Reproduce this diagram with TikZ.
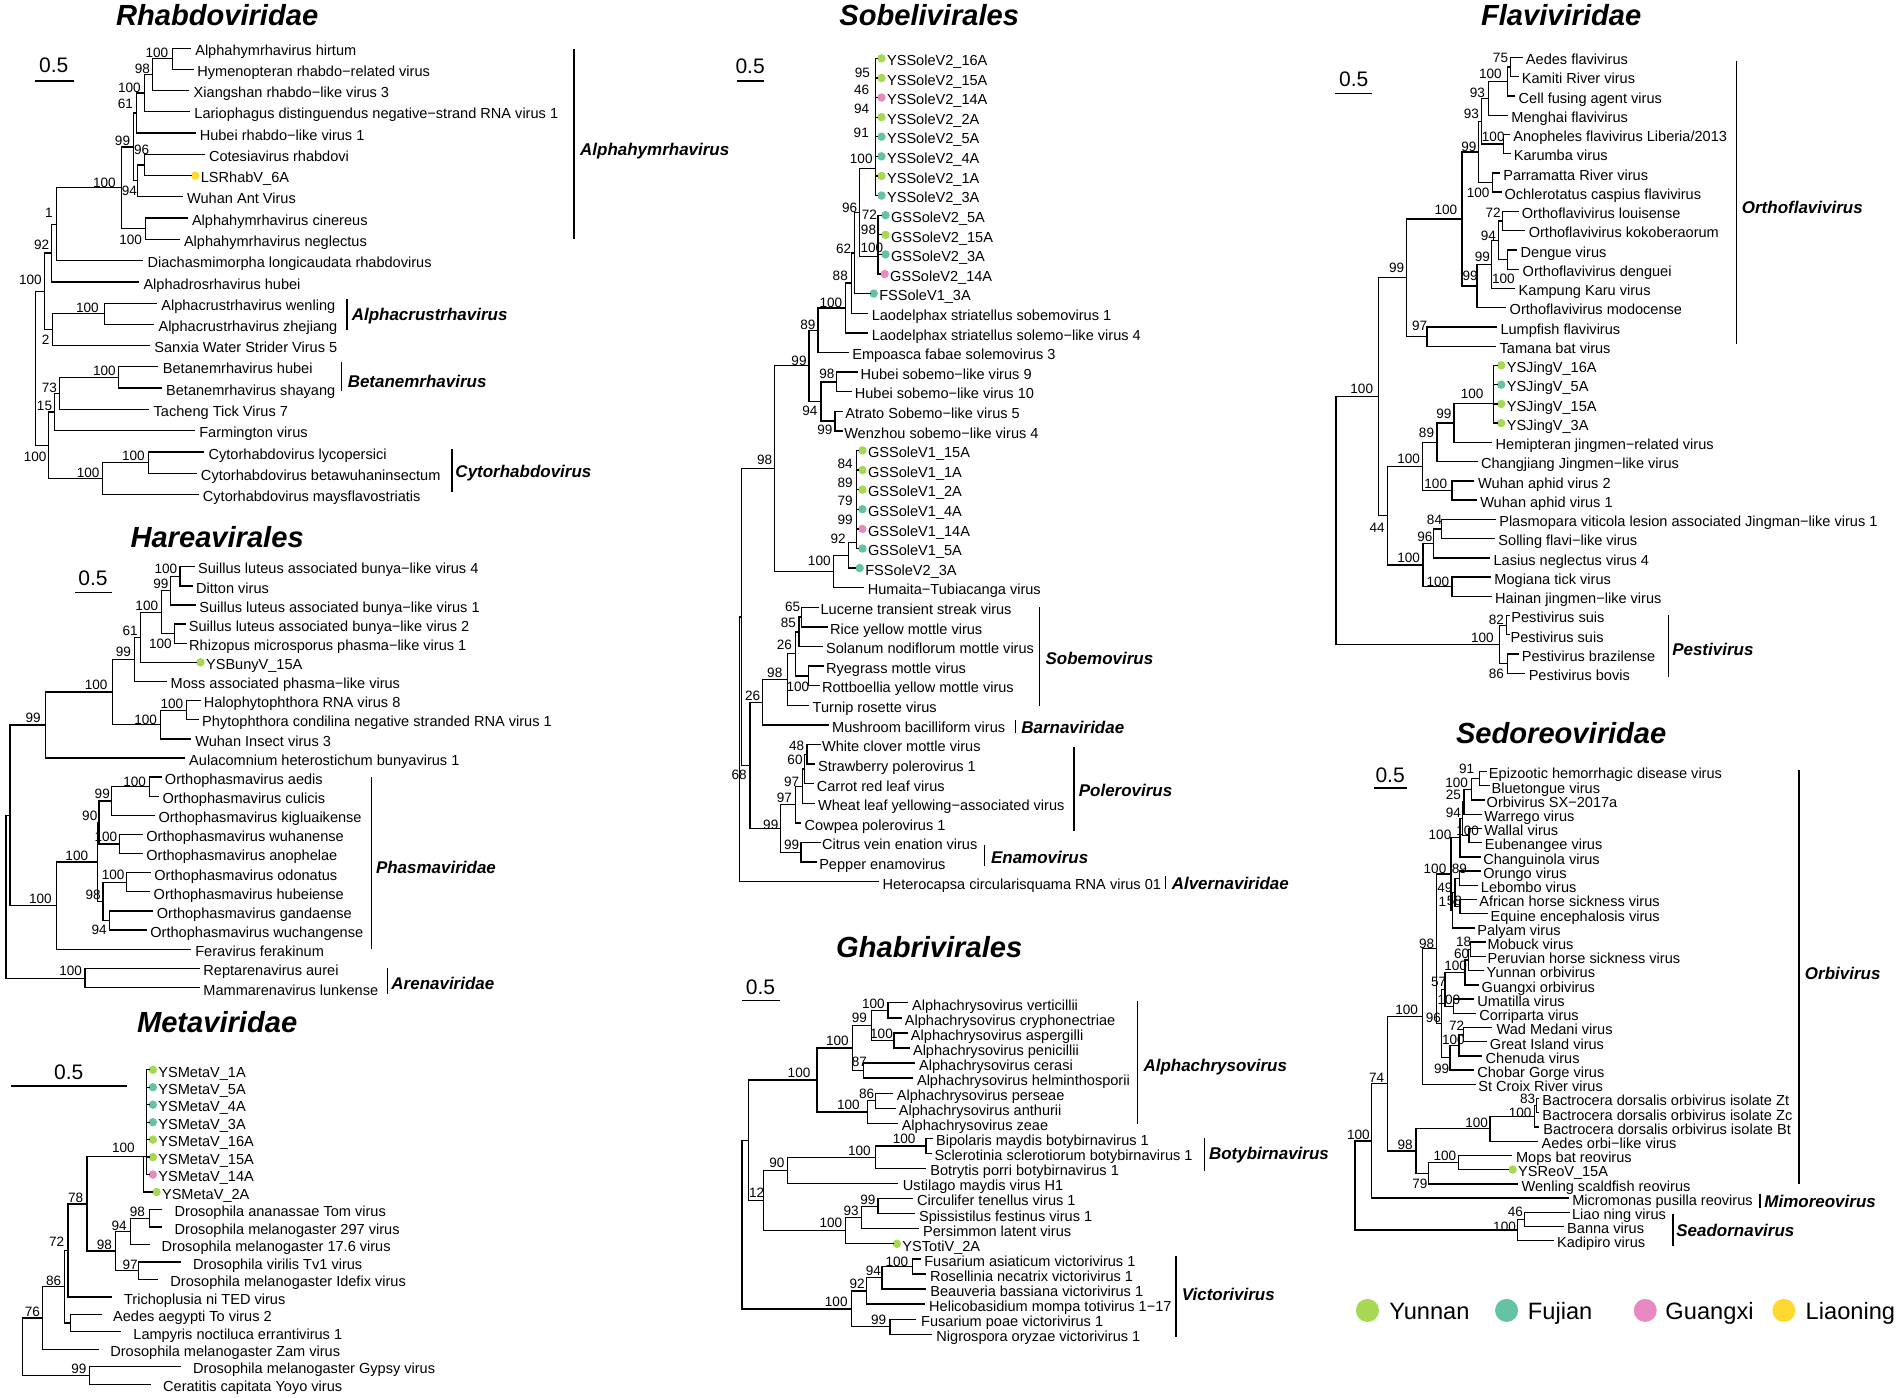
\documentclass[tikz,border=0pt]{standalone}
\usepackage{fontspec}
\setmainfont{Liberation Sans}
\definecolor{yun}{HTML}{A6D854}
\definecolor{fuj}{HTML}{66C2A5}
\definecolor{gxc}{HTML}{E78AC3}
\definecolor{lnc}{HTML}{FFD92F}
\newcounter{bsn}
\newcommand\Lf[5]{\coordinate (#1) at (#2,#4); \node[lft] (#1t) at (#3,#4) {#5};}
\newcommand\Dl[5]{\coordinate (#1) at (#3-3.2,#4); \fill[#2] (#3,#4) circle[radius=2.1pt]; \node[lft] (#1t) at (#3+4.6,#4) {#5};}
\newcommand\Nd[3]{\coordinate (#1) at (#2,#3);}
\newcommand\Ed[2]{\foreach \kid in {#2}{\draw[br] (#1) |- (\kid);}}
\newcommand\Bs[3]{\stepcounter{bsn}\node[bsl] (bs\arabic{bsn}) at (#1,#2) {#3};}
\newcommand\Cl[7]{\coordinate (#1a) at (#2,#3); \coordinate (#1b) at (#2,#4); \draw[br] (#1a) -- (#1b); \node[cll] (#1t) at (#5,#6) {#7};}
\newcommand\Scb[6]{\coordinate (#1a) at (#2,#4); \coordinate (#1b) at (#3,#4); \draw[br] (#1a) -- (#1b); \node[sbl] (#1t) at (#5,#6) {0.5};}
\tikzset{
  br/.style={line width=0.65pt,line cap=rect,line join=miter},
  lft/.style={anchor=west,inner sep=0pt,outer sep=0pt,font=\fontsize{7.2}{8}\selectfont,text height=0.72em,text depth=0pt},
  bsl/.style={inner sep=0pt,outer sep=0pt,font=\fontsize{6.7}{7}\selectfont,text height=0.72em,text depth=0pt},
  cll/.style={anchor=west,inner sep=0pt,outer sep=0pt,font=\fontsize{8.4}{9}\selectfont\bfseries\itshape,text height=0.72em,text depth=0pt},
  ttl/.style={inner sep=0pt,outer sep=0pt,font=\fontsize{14.4}{16}\selectfont\bfseries\itshape,text height=0.72em,text depth=0pt},
  sbl/.style={inner sep=0pt,outer sep=0pt,font=\fontsize{10.4}{11}\selectfont,text height=0.72em,text depth=0pt},
  lgd/.style={anchor=west,inner sep=0pt,outer sep=0pt,font=\fontsize{11.7}{13}\selectfont,text height=0.72em,text depth=0pt},
}
\begin{document}
\begin{tikzpicture}[x=0.6pt,y=-0.6pt]
\useasboundingbox (0,0) rectangle (1568,1152.5);
\fill[white] (0,0) rectangle (1568,1152.5);
%================ Rhabdoviridae
\node[ttl] (tR) at (179,15.1) {Rhabdoviridae};
\Scb{sR}{29.3}{60.7}{66.8}{44.3}{54.1}
\Lf{r1}{156.7}{161}{39.8}{Alphahymrhavirus hirtum}
\Lf{r2}{159}{162.7}{57.2}{Hymenopteran rhabdo−related virus}
\Lf{r3}{155.3}{159.7}{74.5}{Xiangshan rhabdo−like virus 3}
\Lf{r4}{156}{160.3}{92}{Lariophagus distinguendus negative−strand RNA virus 1}
\Lf{r5}{160.7}{164.7}{109.6}{Hubei rhabdo−like virus 1}
\Lf{r6}{168.7}{172.3}{127.2}{Cotesiavirus rhabdovi}
\Dl{r7}{lnc}{161}{144.8}{LSRhabV\_6A}
\Lf{r8}{150.7}{154.3}{162.1}{Wuhan Ant Virus}
\Lf{r9}{154.3}{158.3}{179.7}{Alphahymrhavirus cinereus}
\Lf{r10}{147.7}{151.7}{197.3}{Alphahymrhavirus neglectus}
\Lf{r11}{117.3}{121.7}{214.9}{Diachasmimorpha longicaudata rhabdovirus}
\Lf{r12}{114.3}{118.3}{232.5}{Alphadrosrhavirus hubei}
\Lf{r13}{128.7}{133}{250}{Alphacrustrhavirus wenling}
\Lf{r14}{126.3}{130.7}{267.4}{Alphacrustrhavirus zhejiang}
\Lf{r15}{123.3}{127.3}{284.7}{Sanxia Water Strider Virus 5}
\Lf{r16}{130}{134.3}{302.3}{Betanemrhavirus hubei}
\Lf{r17}{132.7}{137}{319.9}{Betanemrhavirus shayang}
\Lf{r18}{122.7}{126.7}{337.5}{Tacheng Tick Virus 7}
\Lf{r19}{160}{164.3}{355}{Farmington virus}
\Lf{r20}{167.7}{172}{372.6}{Cytorhabdovirus lycopersici}
\Lf{r21}{161.7}{165.7}{390.1}{Cytorhabdovirus betawuhaninsectum}
\Lf{r22}{163.3}{167.3}{407.6}{Cytorhabdovirus maysflavostriatis}
\Nd{rA}{142}{48.5} \Ed{rA}{r1,r2}
\Nd{rB}{126}{61.5} \Ed{rB}{rA,r3}
\Nd{rC}{119.3}{76.75} \Ed{rC}{rB,r4}
\Nd{rD}{112.7}{93.2} \Ed{rD}{rC,r5}
\Nd{rE}{119.3}{136} \Ed{rE}{r6,r7}
\Nd{rF}{113.3}{149} \Ed{rF}{rE,r8}
\Nd{rH}{110}{121.1} \Ed{rH}{rD,rF}
\Nd{rI}{120}{188.5} \Ed{rI}{r9,r10}
\Nd{rG}{100}{154.8} \Ed{rG}{rH,rI}
\Nd{rP}{46.7}{184.9} \Ed{rP}{rG,r11}
\Nd{rQ}{42.7}{208.7} \Ed{rQ}{rP,r12}
\Nd{rR}{86}{258.7} \Ed{rR}{r13,r14}
\Nd{rS}{43.3}{271.7} \Ed{rS}{rR,r15}
\Nd{rT}{36.7}{240.2} \Ed{rT}{rQ,rS}
\Nd{rU}{97.7}{311.1} \Ed{rU}{r16,r17}
\Nd{rV}{49.3}{324.3} \Ed{rV}{rU,r18}
\Nd{rW}{45}{339.7} \Ed{rW}{rV,r19}
\Nd{rJ}{122.7}{381.4} \Ed{rJ}{r20,r21}
\Nd{rK}{84.3}{394.5} \Ed{rK}{rJ,r22}
\Nd{rM}{40}{367.1} \Ed{rM}{rW,rK}
\Nd{rO}{29.3}{303.7} \Ed{rO}{rT,rM}
\Bs{129.3}{41.2}{100}
\Bs{117.3}{55}{98}
\Bs{106.7}{70.1}{100}
\Bs{103.3}{83.8}{61}
\Bs{101}{114}{99}
\Bs{116.7}{121.5}{96}
\Bs{106.7}{155.3}{94}
\Bs{86}{148.4}{100}
\Bs{107.7}{195.7}{100}
\Bs{40.3}{173.7}{1}
\Bs{34.3}{199.8}{92}
\Bs{25}{228.6}{100}
\Bs{72}{251.4}{100}
\Bs{37.7}{278.4}{2}
\Bs{86}{303.7}{100}
\Bs{40.7}{317.4}{73}
\Bs{36.7}{332.5}{15}
\Bs{110}{373.7}{100}
\Bs{72.7}{387.5}{100}
\Bs{29}{374.3}{100}
\Cl{cA}{473.3}{41.2}{196.5}{478.3}{122.3}{Alphahymrhavirus}
\Cl{cB}{286}{247.3}{271.5}{290}{258.3}{Alphacrustrhavirus}
\Cl{cC}{281.7}{299}{322}{286.7}{313.3}{Betanemrhavirus}
\Cl{cD}{372.7}{371}{404.8}{375.5}{387.5}{Cytorhabdovirus}
%================ Sobelivirales
\node[ttl] (tS) at (766,15.1) {Sobelivirales};
\Scb{sS}{607.7}{629.3}{66.8}{618.4}{55}
\Dl{s1}{yun}{726.7}{48.1}{YSSoleV2\_16A}
\Dl{s2}{yun}{726.7}{64.3}{YSSoleV2\_15A}
\Dl{s3}{gxc}{726.7}{80.4}{YSSoleV2\_14A}
\Dl{s4}{yun}{726.7}{96.6}{YSSoleV2\_2A}
\Dl{s5}{fuj}{726.7}{112.7}{YSSoleV2\_5A}
\Dl{s6}{fuj}{726.7}{128.9}{YSSoleV2\_4A}
\Dl{s7}{yun}{726.7}{145.1}{YSSoleV2\_1A}
\Dl{s8}{fuj}{726.7}{161.2}{YSSoleV2\_3A}
\Dl{s9}{fuj}{730}{177.4}{GSSoleV2\_5A}
\Dl{s10}{yun}{730}{193.6}{GSSoleV2\_15A}
\Dl{s11}{fuj}{730}{209.7}{GSSoleV2\_3A}
\Dl{s12}{gxc}{729.3}{225.9}{GSSoleV2\_14A}
\Dl{s13}{fuj}{720.3}{242}{FSSoleV1\_3A}
\Lf{s14}{715.3}{718.7}{258.2}{Laodelphax striatellus sobemovirus 1}
\Lf{s15}{715.3}{718.7}{274.4}{Laodelphax striatellus solemo−like virus 4}
\Lf{s16}{699.4}{702.7}{290.5}{Empoasca fabae solemovirus 3}
\Lf{s17}{706.7}{709.4}{306.7}{Hubei sobemo−like virus 9}
\Lf{s18}{702}{704.7}{322.9}{Hubei sobemo−like virus 10}
\Lf{s19}{694.4}{697}{339}{Atrato Sobemo−like virus 5}
\Lf{s20}{694.4}{696}{355.2}{Wenzhou sobemo−like virus 4}
\Dl{s21}{yun}{711}{371.3}{GSSoleV1\_15A}
\Dl{s22}{yun}{711}{387.5}{GSSoleV1\_1A}
\Dl{s23}{yun}{711}{403.7}{GSSoleV1\_2A}
\Dl{s24}{fuj}{711}{419.8}{GSSoleV1\_4A}
\Dl{s25}{gxc}{711}{436}{GSSoleV1\_14A}
\Dl{s26}{fuj}{711}{452.2}{GSSoleV1\_5A}
\Dl{s27}{fuj}{708.7}{468.3}{FSSoleV2\_3A}
\Lf{s28}{712}{715.4}{484.5}{Humaita−Tubiacanga virus}
\Lf{s29}{674.4}{676.5}{500.6}{Lucerne transient streak virus}
\Lf{s30}{682}{684.4}{516.8}{Rice yellow mottle virus}
\Lf{s31}{677.7}{681}{533}{Solanum nodiflorum mottle virus}
\Lf{s32}{678.4}{681}{549.1}{Ryegrass mottle virus}
\Lf{s33}{675.4}{677.7}{565.3}{Rottboellia yellow mottle virus}
\Lf{s34}{666.7}{670}{581.4}{Turnip rosette virus}
\Lf{s35}{682.7}{686}{597.6}{Mushroom bacilliform virus}
\Lf{s36}{676}{677.7}{613.8}{White clover mottle virus}
\Lf{s37}{671.7}{674.4}{629.9}{Strawberry polerovirus 1}
\Lf{s38}{670.3}{673.4}{646.1}{Carrot red leaf virus}
\Lf{s39}{671}{674.4}{662.2}{Wheat leaf yellowing−associated virus}
\Lf{s40}{660}{663.4}{678.4}{Cowpea polerovirus 1}
\Lf{s41}{676}{677.7}{694.6}{Citrus vein enation virus}
\Lf{s42}{672.7}{675.4}{710.7}{Pepper enamovirus}
\Lf{s43}{724.4}{727.7}{726.9}{Heterocapsa circularisquama RNA virus 01}
\Nd{sC1}{722}{138.8} \Ed{sC1}{s1,s2,s3,s4,s5,s6,s7,s8}
\Nd{sC2}{723.7}{211.6} \Ed{sC2}{s9,s10,s11,s12}
\Nd{s96}{708.4}{175.2} \Ed{s96}{sC1,sC2}
\Nd{s62}{704.4}{208.6} \Ed{s62}{s96,s13}
\Nd{s88}{701.7}{233.4} \Ed{s88}{s62,s14}
\Nd{s100}{697}{253.9} \Ed{s100}{s88,s15}
\Nd{s89}{674.4}{272.2} \Ed{s89}{s100,s16}
\Nd{sHu}{689.4}{314.8} \Ed{sHu}{s17,s18}
\Nd{sAt}{688.4}{347.1} \Ed{sAt}{s19,s20}
\Nd{s94}{676.7}{331} \Ed{s94}{sHu,sAt}
\Nd{s99}{667}{301.6} \Ed{s99}{s89,s94}
\Nd{sC3}{706}{447} \Ed{sC3}{s21,s22,s23,s24,s25,s26}
\Nd{sF92}{699.4}{457.7} \Ed{sF92}{sC3,s27}
\Nd{sG100}{687}{471} \Ed{sG100}{sF92,s28}
\Nd{s98}{638.7}{386.3} \Ed{s98}{s99,sG100}
\Nd{s65}{661}{508.7} \Ed{s65}{s29,s30}
\Nd{s85}{658.7}{520.9} \Ed{s85}{s65,s31}
\Nd{sRy}{666.7}{557.2} \Ed{sRy}{s32,s33}
\Nd{s26a}{656}{539} \Ed{s26a}{s85,sRy}
\Nd{s98s}{649.4}{560.2} \Ed{s98s}{s26a,s34}
\Nd{s26b}{628.7}{578.9} \Ed{s26b}{s98s,s35}
\Nd{s48}{665.4}{621.9} \Ed{s48}{s36,s37}
\Nd{s60}{663.4}{634} \Ed{s60}{s48,s38}
\Nd{s97a}{661.5}{648.1} \Ed{s97a}{s60,s39}
\Nd{s97b}{656}{663.3} \Ed{s97b}{s97a,s40}
\Nd{sEn}{660.4}{702.7} \Ed{sEn}{s41,s42}
\Nd{s99p}{643.4}{683} \Ed{s99p}{s97b,sEn}
\Nd{s287}{618.4}{631} \Ed{s287}{s26b,s99p}
\Nd{sX}{611}{508.6} \Ed{sX}{s98,s287}
\Nd{sY}{609.4}{617.8} \Ed{sY}{sX,s43}
\Bs{711}{57.7}{95}
\Bs{710.4}{72}{46}
\Bs{710.4}{87.4}{94}
\Bs{710}{107.2}{91}
\Bs{710}{128.6}{100}
\Bs{716.7}{175.3}{72}
\Bs{716}{187.7}{98}
\Bs{718.7}{202}{100}
\Bs{700.4}{169.5}{96}
\Bs{695.4}{202.8}{62}
\Bs{692.7}{225.3}{88}
\Bs{685}{247.9}{100}
\Bs{666}{266}{89}
\Bs{681.7}{306.4}{98}
\Bs{680}{352.6}{99}
\Bs{667.7}{336.6}{94}
\Bs{658.7}{295.4}{99}
\Bs{696.7}{380.6}{84}
\Bs{696.7}{395.7}{89}
\Bs{696.7}{410.9}{79}
\Bs{696.7}{426.2}{99}
\Bs{691}{441.9}{92}
\Bs{675.4}{460.6}{100}
\Bs{630.4}{377}{98}
\Bs{653.4}{498.2}{65}
\Bs{650}{511.2}{85}
\Bs{657.7}{564.2}{100}
\Bs{646.7}{529.3}{26}
\Bs{638.7}{552.4}{98}
\Bs{620.4}{571.6}{26}
\Bs{656.7}{612.3}{48}
\Bs{655.4}{624.6}{60}
\Bs{652.7}{642.5}{97}
\Bs{646.7}{655.7}{97}
\Bs{652.7}{694.7}{99}
\Bs{635.4}{677.7}{99}
\Bs{609.4}{637}{68}
\Cl{cE}{857}{501}{581.5}{862}{542.2}{Sobemovirus}
\Cl{cF}{837}{594.4}{604}{842}{599}{Barnaviridae}
\Cl{cG}{885.4}{616.4}{684.6}{889.4}{650.8}{Polerovirus}
\Cl{cH}{811.7}{697.5}{713.1}{817}{705.7}{Enamovirus}
\Cl{cI}{961}{722.8}{732.6}{966}{727.7}{Alvernaviridae}
%================ Flaviviridae
\node[ttl] (tF) at (1287,15.1) {Flaviviridae};
\Scb{sF}{1101.3}{1130.3}{77}{1116}{65.1}
\Lf{f1}{1254.6}{1258}{47.3}{Aedes flavivirus}
\Lf{f2}{1251.3}{1254.6}{63.2}{Kamiti River virus}
\Lf{f3}{1248}{1252}{79.1}{Cell fusing agent virus}
\Lf{f4}{1242.6}{1246}{95}{Menghai flavivirus}
\Lf{f5}{1244.6}{1247.6}{110.8}{Anopheles flavivirus Liberia/2013}
\Lf{f6}{1245.3}{1248}{126.7}{Karumba virus}
\Lf{f7}{1236.3}{1239.3}{142.6}{Parramatta River virus}
\Lf{f8}{1237.6}{1240.3}{158.4}{Ochlerotatus caspius flavivirus}
\Lf{f9}{1251.3}{1254.6}{174.3}{Orthoflavivirus louisense}
\Lf{f10}{1257}{1260.3}{190.2}{Orthoflavivirus kokoberaorum}
\Lf{f11}{1250.3}{1253.6}{206}{Dengue virus}
\Lf{f12}{1252}{1255.3}{221.9}{Orthoflavivirus denguei}
\Lf{f13}{1248.6}{1252}{237.8}{Kampung Karu virus}
\Lf{f14}{1241.3}{1244.6}{253.6}{Orthoflavivirus modocense}
\Lf{f15}{1233.6}{1237}{269.5}{Lumpfish flavivirus}
\Lf{f16}{1233}{1236.3}{285.4}{Tamana bat virus}
\Dl{f17}{yun}{1237.6}{301.2}{YSJingV\_16A}
\Dl{f18}{fuj}{1237.6}{317.1}{YSJingV\_5A}
\Dl{f19}{yun}{1237.6}{333}{YSJingV\_15A}
\Dl{f20}{yun}{1237.6}{348.8}{YSJingV\_3A}
\Lf{f21}{1229.3}{1233}{364.7}{Hemipteran jingmen−related virus}
\Lf{f22}{1218}{1221}{380.6}{Changjiang Jingmen−like virus}
\Lf{f23}{1214.6}{1218.6}{396.6}{Wuhan aphid virus 2}
\Lf{f24}{1217}{1220.3}{412.3}{Wuhan aphid virus 1}
\Lf{f25}{1232.6}{1236}{428.1}{Plasmopara viticola lesion associated Jingman−like virus 1}
\Lf{f26}{1232}{1235.3}{444}{Solling flavi−like virus}
\Lf{f27}{1228}{1231.3}{459.9}{Lasius neglectus virus 4}
\Lf{f28}{1228.6}{1232}{475.7}{Mogiana tick virus}
\Lf{f29}{1229.3}{1232.6}{491.6}{Hainan jingmen−like virus}
\Lf{f30}{1244.3}{1246}{507.5}{Pestivirus suis}
\Lf{f31}{1244.3}{1245.3}{523.3}{Pestivirus suis}
\Lf{f32}{1252}{1254.6}{539.2}{Pestivirus brazilense}
\Lf{f33}{1257}{1260.3}{555}{Pestivirus bovis}
\Nd{f75}{1245.3}{55.3} \Ed{f75}{f1,f2}
\Nd{fA}{1243}{67.2} \Ed{fA}{f75,f3}
\Nd{f93a}{1227}{81.1} \Ed{f93a}{fA,f4}
\Nd{fAn}{1239.6}{118.8} \Ed{fAn}{f5,f6}
\Nd{f93b}{1221.3}{100} \Ed{f93b}{f93a,fAn}
\Nd{fPa}{1230.3}{150.5} \Ed{fPa}{f7,f8}
\Nd{f99a}{1218.6}{125.3} \Ed{f99a}{f93b,fPa}
\Nd{f72}{1238.6}{182.3} \Ed{f72}{f9,f10}
\Nd{fDe}{1243}{214} \Ed{fDe}{f11,f12}
\Nd{f94}{1235.3}{198.1} \Ed{f94}{f72,fDe}
\Nd{f99b}{1229.6}{218} \Ed{f99b}{f94,f13}
\Nd{f99c}{1217.6}{235.8} \Ed{f99c}{f99b,f14}
\Nd{f100b}{1205.3}{180.6} \Ed{f100b}{f99a,f99c}
\Nd{f97}{1176.3}{277.4} \Ed{f97}{f15,f16}
\Nd{f99d}{1159.6}{229} \Ed{f99d}{f100b,f97}
\Nd{fJ}{1231.3}{332.5} \Ed{fJ}{f17,f18,f19,f20}
\Nd{f99e}{1198.6}{348.6} \Ed{f99e}{fJ,f21}
\Nd{f89}{1184.6}{364.6} \Ed{f89}{f99e,f22}
\Nd{fWu}{1197}{404.5} \Ed{fWu}{f23,f24}
\Nd{f100c}{1172.6}{384.5} \Ed{f100c}{f89,fWu}
\Nd{f84}{1188.6}{436} \Ed{f84}{f25,f26}
\Nd{f96}{1182}{448} \Ed{f96}{f84,f27}
\Nd{fMo}{1197}{483.6} \Ed{fMo}{f28,f29}
\Nd{f100d}{1173}{465.8} \Ed{f100d}{f96,fMo}
\Nd{f44}{1143.6}{425.2} \Ed{f44}{f100c,f100d}
\Nd{f100e}{1136.3}{327} \Ed{f100e}{f99d,f44}
\Nd{f82}{1242}{515.4} \Ed{f82}{f30,f31}
\Nd{f86}{1242.6}{547.1} \Ed{f86}{f32,f33}
\Nd{fP}{1236}{531.3} \Ed{fP}{f82,f86}
\Nd{fR}{1101.3}{429.2} \Ed{fR}{f100e,fP}
\Bs{1237}{45.3}{75}
\Bs{1228.6}{59.1}{100}
\Bs{1218}{74.7}{93}
\Bs{1231}{110.7}{100}
\Bs{1213}{91.5}{93}
\Bs{1218.6}{156.6}{100}
\Bs{1211}{119}{99}
\Bs{1231}{173.7}{72}
\Bs{1239.3}{227.5}{100}
\Bs{1227}{192.4}{94}
\Bs{1222}{209.7}{99}
\Bs{1212}{225.3}{99}
\Bs{1192}{171}{100}
\Bs{1170.3}{266.6}{97}
\Bs{1151.3}{218.5}{99}
\Bs{1213.6}{322.9}{100}
\Bs{1190.3}{339.4}{99}
\Bs{1176}{355}{89}
\Bs{1183.6}{396.6}{100}
\Bs{1161.3}{376.5}{100}
\Bs{1182.6}{426}{84}
\Bs{1174.6}{440.5}{96}
\Bs{1185.3}{477.6}{100}
\Bs{1161.3}{457.9}{100}
\Bs{1135.3}{433.1}{44}
\Bs{1122.6}{318.8}{100}
\Bs{1233.6}{509.2}{82}
\Bs{1233.6}{553.2}{86}
\Bs{1222}{523.8}{100}
\Cl{cJ}{1431.3}{50.8}{283}{1436}{169.8}{Orthoflavivirus}
\Cl{cK}{1375.3}{507.3}{557.3}{1378.6}{534}{Pestivirus}
%================ Hareavirales
\node[ttl] (tH) at (179,445.2) {Hareavirales};
\Scb{sH}{62.7}{91.7}{488.6}{76.7}{476.8}
\Lf{h1}{160}{163.3}{467.2}{Suillus luteus associated bunya−like virus 4}
\Lf{h2}{158.3}{161.7}{483}{Ditton virus}
\Lf{h3}{160.7}{164.3}{498.8}{Suillus luteus associated bunya−like virus 1}
\Lf{h4}{152.7}{155.7}{514.5}{Suillus luteus associated bunya−like virus 2}
\Lf{h5}{153.3}{156}{530.3}{Rhizopus microsporus phasma−like virus 1}
\Dl{h6}{yun}{165.3}{546}{YSBunyV\_15A}
\Lf{h7}{137.3}{140.7}{561.8}{Moss associated phasma−like virus}
\Lf{h8}{165}{168}{577.6}{Halophytophthora RNA virus 8}
\Lf{h9}{163.3}{166.7}{593.3}{Phytophthora condilina negative stranded RNA virus 1}
\Lf{h10}{157.3}{161}{609.1}{Wuhan Insect virus 3}
\Lf{h11}{152.3}{156}{624.9}{Aulacomnium heterostichum bunyavirus 1}
\Lf{h12}{133.3}{136}{640.6}{Orthophasmavirus aedis}
\Lf{h13}{130.7}{134}{656.4}{Orthophasmavirus culicis}
\Lf{h14}{127.3}{130.7}{672.2}{Orthophasmavirus kigluaikense}
\Lf{h15}{117.3}{120.7}{687.9}{Orthophasmavirus wuhanense}
\Lf{h16}{117.3}{120.7}{703.7}{Orthophasmavirus anophelae}
\Lf{h17}{124}{127.3}{719.5}{Orthophasmavirus odonatus}
\Lf{h18}{123.3}{126.7}{735.2}{Orthophasmavirus hubeiense}
\Lf{h19}{126}{129.3}{751}{Orthophasmavirus gandaense}
\Lf{h20}{120.7}{124}{766.8}{Orthophasmavirus wuchangense}
\Lf{h21}{156.7}{161}{782.7}{Feravirus ferakinum}
\Lf{h22}{164.3}{167.7}{798.6}{Reptarenavirus aurei}
\Lf{h23}{164.3}{167.7}{814.3}{Mammarenavirus lunkense}
\Nd{hA}{148.3}{475.1} \Ed{hA}{h1,h2}
\Nd{hB}{140.7}{487} \Ed{hB}{hA,h3}
\Nd{hC}{144}{522.4} \Ed{hC}{h4,h5}
\Nd{hD}{133.3}{504.7} \Ed{hD}{hB,hC}
\Nd{hE}{116}{525.4} \Ed{hE}{hD,h6}
\Nd{hF}{111}{543.6} \Ed{hF}{hE,h7}
\Nd{hG}{154}{585.5} \Ed{hG}{h8,h9}
\Nd{hH}{132.3}{597.3} \Ed{hH}{hG,h10}
\Nd{hI}{92.7}{570.5} \Ed{hI}{hF,hH}
\Nd{hJ}{37.3}{597.7} \Ed{hJ}{hI,h11}
\Nd{hK}{123.3}{648.5} \Ed{hK}{h12,h13}
\Nd{hL}{91.7}{660.4} \Ed{hL}{hK,h14}
\Nd{hM}{98.3}{695.8} \Ed{hM}{h15,h16}
\Nd{hN}{81.7}{678.1} \Ed{hN}{hL,hM}
\Nd{hO}{104.3}{727.4} \Ed{hO}{h17,h18}
\Nd{hP}{90}{758.9} \Ed{hP}{h19,h20}
\Nd{hQ}{85}{743.2} \Ed{hQ}{hO,hP}
\Nd{hZ}{80.5}{710.6} \Ed{hZ}{hN,hQ}
\Nd{hS}{46.7}{746.6} \Ed{hS}{hZ,h21}
\Nd{hT}{70}{806.4} \Ed{hT}{h22,h23}
\Nd{hU}{8.3}{672.1} \Ed{hU}{hJ,hS}
\Nd{hV}{5}{739.3} \Ed{hV}{hU,hT}
\Bs{136.7}{466.6}{100}
\Bs{132.7}{479}{99}
\Bs{132.3}{528.5}{100}
\Bs{121}{496.9}{100}
\Bs{107.3}{517.5}{61}
\Bs{101.7}{535.3}{99}
\Bs{141.7}{578}{100}
\Bs{120}{590.9}{100}
\Bs{79.3}{562.8}{100}
\Bs{27.3}{589.8}{99}
\Bs{111}{642.5}{100}
\Bs{84.3}{652.1}{99}
\Bs{87.3}{687.9}{100}
\Bs{74}{670.5}{90}
\Bs{93.3}{718.9}{100}
\Bs{81.7}{764.8}{94}
\Bs{76.7}{735.4}{98}
\Bs{63.3}{703}{100}
\Bs{33.3}{738.7}{100}
\Bs{58.3}{798.1}{100}
\Cl{cL}{306}{641.1}{782.1}{310}{714}{Phasmaviridae}
\Cl{cM}{319.3}{798.6}{819.2}{322.7}{809.6}{Arenaviridae}
%================ Metaviridae
\node[ttl] (tM) at (179,844.8) {Metaviridae};
\Scb{sM}{9.3}{104.3}{895.4}{56.7}{883.8}
\Dl{m1}{yun}{126}{881.9}{YSMetaV\_1A}
\Dl{m2}{fuj}{126}{896.3}{YSMetaV\_5A}
\Dl{m3}{fuj}{126}{910.7}{YSMetaV\_4A}
\Dl{m4}{fuj}{126}{925.1}{YSMetaV\_3A}
\Dl{m5}{yun}{126}{939.5}{YSMetaV\_16A}
\Dl{m6}{yun}{126}{953.9}{YSMetaV\_15A}
\Dl{m7}{gxc}{126}{968.3}{YSMetaV\_14A}
\Dl{m8}{yun}{129}{982.7}{YSMetaV\_2A}
\Lf{m9}{133.3}{144}{997.1}{Drosophila ananassae Tom virus}
\Lf{m10}{133.3}{144}{1011.5}{Drosophila melanogaster 297 virus}
\Lf{m11}{123.3}{133.3}{1025.9}{Drosophila melanogaster 17.6 virus}
\Lf{m12}{149}{159.3}{1040.3}{Drosophila virilis Tv1 virus}
\Lf{m13}{130}{140.5}{1054.7}{Drosophila melanogaster Idefix virus}
\Lf{m14}{91.7}{102.3}{1069.1}{Trichoplusia ni TED virus}
\Lf{m15}{83.3}{93.3}{1083.5}{Aedes aegypti To virus 2}
\Lf{m16}{99.3}{110}{1097.9}{Lampyris noctiluca errantivirus 1}
\Lf{m17}{81}{91}{1112.3}{Drosophila melanogaster Zam virus}
\Lf{m18}{149}{159.3}{1126.7}{Drosophila melanogaster Gypsy virus}
\Lf{m19}{124}{134.5}{1141.1}{Ceratitis capitata Yoyo virus}
\Nd{mC}{120.7}{953.6} \Ed{mC}{m1,m2,m3,m4,m5,m6,m7}
\Nd{mD}{118.3}{953.6} \Ed{mD}{mC,m8}
\Nd{m98}{123.3}{1004.3} \Ed{m98}{m9,m10}
\Nd{m94}{107.3}{1015.1} \Ed{m94}{m98,m11}
\Nd{m97}{114.3}{1047.5} \Ed{m97}{m12,m13}
\Nd{m98b}{95}{1031.3} \Ed{m98b}{m94,m97}
\Nd{m78}{71.7}{992.5} \Ed{m78}{mD,m98b}
\Nd{m72}{56}{1030.8} \Ed{m72}{m78,m14}
\Nd{mAe}{58.3}{1090.7} \Ed{mAe}{m15,m16}
\Nd{m86}{53.3}{1060.8} \Ed{m86}{m72,mAe}
\Nd{m76}{35}{1086.6} \Ed{m76}{m86,m17}
\Nd{mGy}{74}{1133.9} \Ed{mGy}{m18,m19}
\Nd{mR}{18.3}{1110.3} \Ed{mR}{m76,mGy}
\Bs{101.7}{944.3}{100}
\Bs{113.3}{996.5}{98}
\Bs{98.3}{1008}{94}
\Bs{107.3}{1040.4}{97}
\Bs{86}{1024}{98}
\Bs{62.3}{985.5}{78}
\Bs{46.7}{1021.2}{72}
\Bs{44.3}{1053.4}{86}
\Bs{26.7}{1079.5}{76}
\Bs{65}{1126.2}{99}
%================ Ghabrivirales
\node[ttl] (tG) at (766,783.5) {Ghabrivirales};
\Scb{sG}{612}{642.7}{824.7}{627}{813.7}
\Lf{g1}{748}{752}{826.7}{Alphachrysovirus verticillii}
\Lf{g2}{742.7}{746}{839.1}{Alphachrysovirus cryphonectriae}
\Lf{g3}{747.7}{751}{851.5}{Alphachrysovirus aspergilli}
\Lf{g4}{749.4}{752.7}{864}{Alphachrysovirus penicillii}
\Lf{g5}{753.7}{757.7}{876.4}{Alphachrysovirus cerasi}
\Lf{g6}{752}{756}{888.8}{Alphachrysovirus helminthosporii}
\Lf{g7}{735.4}{739.4}{901.2}{Alphachrysovirus perseae}
\Lf{g8}{737.7}{741}{913.6}{Alphachrysovirus anthurii}
\Lf{g9}{739.4}{743.4}{926.1}{Alphachrysovirus zeae}
\Lf{g10}{768.7}{771.7}{938.5}{Bipolaris maydis botybirnavirus 1}
\Lf{g11}{767.7}{770.4}{950.9}{Sclerotinia sclerotiorum botybirnavirus 1}
\Lf{g12}{762.7}{767}{963.3}{Botrytis porri botybirnavirus 1}
\Lf{g13}{740}{744.4}{975.7}{Ustilago maydis virus H1}
\Lf{g14}{752}{756}{988.2}{Circulifer tenellus virus 1}
\Lf{g15}{753.4}{757.7}{1000.6}{Spissistilus festinus virus 1}
\Lf{g16}{757}{761}{1013}{Persimmon latent virus}
\Dl{g17}{yun}{739.4}{1025.4}{YSTotiV\_2A}
\Lf{g18}{758.7}{762}{1037.8}{Fusarium asiaticum victorivirus 1}
\Lf{g19}{762.7}{766.7}{1050.3}{Rosellinia necatrix victorivirus 1}
\Lf{g20}{762.7}{767}{1062.7}{Beauveria bassiana victorivirus 1}
\Lf{g21}{762}{766}{1075.1}{Helicobasidium mompa totivirus 1−17}
\Lf{g22}{755}{759.4}{1087.5}{Fusarium poae victorivirus 1}
\Lf{g23}{767.7}{772}{1099.9}{Nigrospora oryzae victorivirus 1}
\Nd{gA}{732}{832.9} \Ed{gA}{g1,g2}
\Nd{gB}{737}{857.8} \Ed{gB}{g3,g4}
\Nd{g99}{718.4}{845.4} \Ed{g99}{gA,gB}
\Nd{gC}{712}{882.6} \Ed{gC}{g5,g6}
\Nd{gD}{702.7}{864} \Ed{gD}{g99,gC}
\Nd{gE}{721.7}{907.4} \Ed{gE}{g7,g8}
\Nd{gF}{715.4}{916.8} \Ed{gF}{gE,g9}
\Nd{gG}{673.4}{890.4} \Ed{gG}{gD,gF}
\Nd{gH}{763.4}{944.7} \Ed{gH}{g10,g11}
\Nd{gI}{722}{954} \Ed{gI}{gH,g12}
\Nd{gJ}{649.4}{964.9} \Ed{gJ}{gI,g13}
\Nd{gK}{723.7}{994.4} \Ed{gK}{g14,g15}
\Nd{gL}{710}{1003.7} \Ed{gL}{gK,g16}
\Nd{gM}{697}{1014.6} \Ed{gM}{gL,g17}
\Nd{gN}{629.4}{989.8} \Ed{gN}{gJ,gM}
\Nd{gO}{617}{940.1} \Ed{gO}{gG,gN}
\Nd{gP}{752}{1044} \Ed{gP}{g18,g19}
\Nd{gQ}{727}{1053.4} \Ed{gQ}{gP,g20}
\Nd{gR}{714.4}{1064.3} \Ed{gR}{gQ,g21}
\Nd{gS}{733.7}{1093.7} \Ed{gS}{g22,g23}
\Nd{gT}{701.7}{1079} \Ed{gT}{gR,gS}
\Nd{gU}{611.7}{1009.6} \Ed{gU}{gO,gT}
\Bs{720}{825.3}{100}
\Bs{726.7}{850}{100}
\Bs{708.4}{837.1}{99}
\Bs{708.4}{873.4}{87}
\Bs{690.4}{855.8}{100}
\Bs{714.4}{899.5}{86}
\Bs{699.4}{908.5}{100}
\Bs{658.7}{881.9}{100}
\Bs{745.4}{936.6}{100}
\Bs{708.4}{946.5}{100}
\Bs{640.4}{956.6}{90}
\Bs{715.4}{986.9}{99}
\Bs{701.7}{995.7}{93}
\Bs{685}{1006.1}{100}
\Bs{623.7}{981.4}{12}
\Bs{739.4}{1037.7}{100}
\Bs{720}{1045.4}{94}
\Bs{706.7}{1056.4}{92}
\Bs{724.4}{1085.8}{99}
\Bs{689.4}{1070.7}{100}
\Cl{cN}{937.7}{826.1}{926.4}{942.7}{877}{Alphachrysovirus}
\Cl{cO}{992.7}{938.8}{964.9}{996.7}{949.8}{Botybirnavirus}
\Cl{cP}{969.4}{1036.3}{1101.5}{974.4}{1066}{Victorivirus}
%================ Sedoreoviridae
\node[ttl] (tE) at (1287,607.3) {Sedoreoviridae};
\Scb{sE}{1133.3}{1159.5}{649.6}{1146}{639}
\Lf{q0}{1225.6}{1227.5}{636.1}{Epizootic hemorrhagic disease virus}
\Lf{q1}{1227.5}{1229.7}{647.8}{Bluetongue virus}
\Lf{q2}{1223.7}{1225.6}{659.5}{Orbivirus SX−2017a}
\Lf{q3}{1220.9}{1223.7}{671.3}{Warrego virus}
\Lf{q4}{1221.5}{1223.7}{683}{Wallal virus}
\Lf{q5}{1221.5}{1224.2}{694.7}{Eubenangee virus}
\Lf{q6}{1220.1}{1222.8}{706.4}{Changuinola virus}
\Lf{q7}{1220.1}{1222.8}{718.1}{Orungo virus}
\Lf{q8}{1218.2}{1220.9}{729.9}{Lebombo virus}
\Lf{q9}{1217.3}{1219.5}{741.6}{African horse sickness virus}
\Lf{q10}{1226.4}{1228.9}{753.3}{Equine encephalosis virus}
\Lf{q11}{1215.4}{1217.9}{765}{Palyam virus}
\Lf{q12}{1224.2}{1226.4}{776.7}{Mobuck virus}
\Lf{q13}{1224.2}{1226.4}{788.5}{Peruvian horse sickness virus}
\Lf{q14}{1222.8}{1225.6}{800.2}{Yunnan orbivirus}
\Lf{q15}{1218.7}{1221.5}{811.9}{Guangxi orbivirus}
\Lf{q16}{1214.6}{1217.9}{823.6}{Umatilla virus}
\Lf{q17}{1216}{1219.5}{835.3}{Corriparta virus}
\Lf{q18}{1229.7}{1233.8}{847.1}{Wad Medani virus}
\Lf{q19}{1225.6}{1228.3}{858.8}{Great Island virus}
\Lf{q20}{1221.5}{1224.8}{870.5}{Chenuda virus}
\Lf{q21}{1214.6}{1217.9}{882.2}{Chobar Gorge virus}
\Lf{q22}{1216}{1218.7}{893.9}{St Croix River virus}
\Lf{q23}{1268}{1271.5}{905.6}{Bactrocera dorsalis orbivirus isolate Zt}
\Lf{q24}{1268}{1271.5}{917.4}{Bactrocera dorsalis orbivirus isolate Zc}
\Lf{q25}{1268.2}{1272.3}{929.1}{Bactrocera dorsalis orbivirus isolate Bt}
\Lf{q26}{1267.6}{1270.9}{940.8}{Aedes orbi−like virus}
\Lf{q27}{1246.2}{1249.8}{952.5}{Mops bat reovirus}
\Dl{q28}{yun}{1247}{964.2}{YSReoV\_15A}
\Lf{q29}{1251.1}{1254.4}{976}{Wenling scaldfish reovirus}
\Lf{q30}{1292.9}{1296.2}{987.7}{Micromonas pusilla reovirus}
\Lf{q31}{1293.6}{1296}{999.4}{Liao ning virus}
\Lf{q32}{1288.6}{1292}{1011.1}{Banna virus}
\Lf{q33}{1280.3}{1283.6}{1022.8}{Kadipiro virus}
\Nd{eA}{1219.5}{642} \Ed{eA}{q0,q1}
\Nd{eB}{1213.2}{650.7} \Ed{eB}{eA,q2}
\Nd{eC}{1206.9}{661} \Ed{eC}{eB,q3}
\Nd{eW}{1211}{688.9} \Ed{eW}{q4,q5}
\Nd{eD}{1205.8}{675} \Ed{eD}{eC,eW}
\Nd{eE}{1203.6}{690.7} \Ed{eE}{eD,q6}
\Nd{eO}{1203.1}{724} \Ed{eO}{q7,q8}
\Nd{eAf}{1203.6}{747.5} \Ed{eAf}{q9,q10}
\Nd{e49}{1199.5}{735.7} \Ed{e49}{eO,eAf}
\Nd{eN1}{1197.3}{750.4} \Ed{eN1}{e49,q11}
\Nd{eF}{1196.2}{720.6} \Ed{eF}{eE,eN1}
\Nd{eMo}{1212.5}{782.6} \Ed{eMo}{q12,q13}
\Nd{eYu}{1210.5}{791.4} \Ed{eYu}{eMo,q14}
\Nd{eGu}{1207.7}{801.7} \Ed{eGu}{eYu,q15}
\Nd{eE2}{1198.1}{829.5} \Ed{eE2}{q16,q17}
\Nd{eD57}{1191.2}{815.6} \Ed{eD57}{eGu,eE2}
\Nd{eF72}{1206.4}{853} \Ed{eF72}{q18,q19}
\Nd{eG}{1202.8}{861.8} \Ed{eG}{eF72,q20}
\Nd{eH}{1195.4}{872} \Ed{eH}{eG,q21}
\Nd{eK}{1188.5}{843.8} \Ed{eK}{eD57,eH}
\Nd{eN98}{1184.4}{782.2} \Ed{eN98}{eF,eK}
\Nd{eN100d}{1172.8}{838} \Ed{eN100d}{eN98,q22}
\Nd{eZ}{1266.5}{911.5} \Ed{eZ}{q23,q24}
\Nd{eZB}{1264.9}{920.3} \Ed{eZB}{eZ,q25}
\Nd{eAo}{1228.3}{930.6} \Ed{eAo}{eZB,q26}
\Nd{eMp}{1202.2}{958.4} \Ed{eMp}{q27,q28}
\Nd{e79}{1177.5}{967.2} \Ed{e79}{eMp,q29}
\Nd{e98b}{1167.3}{948.9} \Ed{e98b}{eAo,e79}
\Nd{e74}{1144}{893.5} \Ed{e74}{eN100d,e98b}
\Nd{e100f}{1130.8}{940.6} \Ed{e100f}{e74,q30}
\Nd{eLi}{1257}{1005.3} \Ed{eLi}{q31,q32}
\Nd{eSe}{1251}{1014} \Ed{eSe}{eLi,q33}
\Nd{eR}{1117}{977.3} \Ed{eR}{e100f,eSe}
\Bs{1209.1}{632}{91}
\Bs{1200.9}{643.5}{100}
\Bs{1198.1}{653.2}{25}
\Bs{1209.9}{682.8}{100}
\Bs{1198.1}{668.3}{94}
\Bs{1187.1}{686.4}{100}
\Bs{1203.1}{714.4}{89}
\Bs{1199}{740.5}{58}
\Bs{1191.2}{729.5}{49}
\Bs{1189}{741.4}{1}
\Bs{1183}{714.4}{100}
\Bs{1206.6}{774.4}{18}
\Bs{1205}{784.5}{60}
\Bs{1200}{794.3}{100}
\Bs{1186}{807.5}{57}
\Bs{1194.5}{821.8}{100}
\Bs{1200.9}{843.7}{72}
\Bs{1198.1}{854.7}{100}
\Bs{1188.5}{878.9}{99}
\Bs{1181.6}{836.8}{96}
\Bs{1176.1}{776.3}{98}
\Bs{1159.6}{830.5}{100}
\Bs{1259.4}{904.1}{83}
\Bs{1253.1}{915.1}{100}
\Bs{1217.3}{923.4}{100}
\Bs{1191.2}{950.8}{100}
\Bs{1170.6}{973.4}{79}
\Bs{1158.3}{941.8}{98}
\Bs{1134.9}{886.3}{74}
\Bs{1119.8}{933}{100}
\Bs{1249.3}{997}{46}
\Bs{1240.3}{1008.9}{100}
\Cl{cQ}{1483}{635.6}{975.9}{1488}{801.4}{Orbivirus}
\Cl{cR}{1451}{984.7}{995.1}{1454.6}{989.6}{Mimoreovirus}
\Cl{cS}{1379.3}{1001.4}{1026.7}{1382}{1013}{Seadornavirus}
%================ Legend
\fill[yun] (1127.3,1080.3) circle[radius=5.7pt];
\fill[fuj] (1242,1080.3) circle[radius=5.7pt];
\fill[gxc] (1356.3,1080.3) circle[radius=5.7pt];
\fill[lnc] (1470.6,1080.3) circle[radius=5.7pt];
\node[lgd] (lg1) at (1145.3,1081.4) {Yunnan};
\node[lgd] (lg2) at (1259.6,1081.4) {Fujian};
\node[lgd] (lg3) at (1373,1081.4) {Guangxi};
\node[lgd] (lg4) at (1488.6,1081.4) {Liaoning};
\end{tikzpicture}
\end{document}
